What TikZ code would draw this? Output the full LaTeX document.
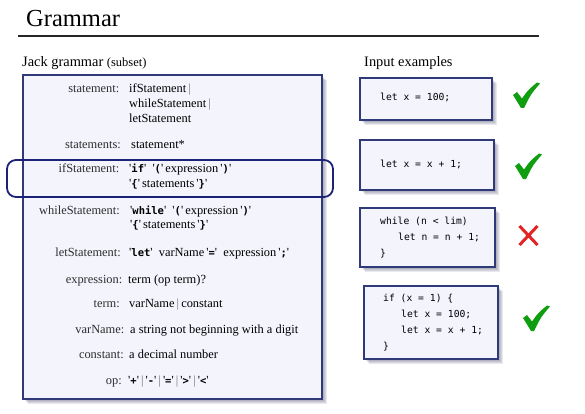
\documentclass[tikz,border=0pt]{standalone}
\usepackage{fontspec}
\setmainfont{Liberation Serif}
\newfontfamily\codefont{DejaVu Sans Mono}
\definecolor{boxbg}{RGB}{244,244,253}
\definecolor{boxline}{RGB}{48,58,120}
\definecolor{hlline}{RGB}{28,34,118}
\definecolor{checkgreen}{RGB}{16,158,16}
\definecolor{crossred}{RGB}{226,36,36}
\definecolor{labgray}{RGB}{45,45,45}
\newcommand\kw[1]{{\codefont\bfseries\fontsize{10.5}{12}\selectfont #1}}
\newcommand\qt[1]{\textquotesingle#1\textquotesingle}
\newcommand\gsep{{\color{black!55}\,|\,}}
\tikzset{
  lab/.style={anchor=base east, inner sep=0pt, text=labgray, font=\fontsize{12.4}{15}\selectfont},
  body/.style={anchor=base west, inner sep=0pt, text=black, font=\fontsize{12.4}{15}\selectfont},
  code/.style={anchor=base west, inner sep=0pt, text=black, font=\codefont\fontsize{9.7}{16}\selectfont},
  panel/.style={draw=boxline, fill=boxbg, line width=1.6pt, inner sep=0pt, anchor=north west},
  heading/.style={anchor=base west, inner sep=0pt, font=\fontsize{14.4}{17}\selectfont},
  hl/.style={draw=hlline, line width=1.8pt, rounded corners=9pt},
}
\newcommand\shadowbox[4]{%
  \foreach \k in {1,...,6}{\fill[black!80!blue, opacity=0.085] (#1+\k,#2+\k) rectangle (#3+\k,#4+\k);}}
\newcommand\checkmk[2]{%
  \fill[checkgreen, shift={(#1,#2)}] (0,13) -- (4,10) -- (9,16.5) .. controls (15,8) .. (24,0.5) -- (27,1.5) .. controls (18,12) .. (11,26) -- (8,26) -- cycle;}
\begin{document}
\begin{tikzpicture}[x=1pt,y=-1pt]
\useasboundingbox (0,0) rectangle (585,414);
% title
\node[anchor=base west, inner sep=0pt, font=\fontsize{24.5}{28}\selectfont] (title) at (26,27) {Grammar};
\coordinate (tl) at (18,36);
\coordinate (tr) at (539,36);
\draw[line width=1.4pt, black!85] (tl) -- (tr);

% left heading
\node[heading] (jack) at (22,67) {Jack grammar {\fontsize{12.5}{15}\selectfont(subset)}};

% main grammar box
\shadowbox{22}{74}{321}{398}
\node[panel, minimum width=299pt, minimum height=324pt] (gbox) at (22,74) {};

\node[lab] (l1) at (119.5,93) {statement:};
\node[body] (b1a) at (129,93) {ifStatement\gsep};
\node[body] (b1b) at (129,108) {whileStatement\gsep};
\node[body] (b1c) at (129,122.5) {letStatement};

\node[lab] (l2) at (121,148) {statements:};
\node[body] (b2) at (131,148) {statement*};

\node[lab] (l3) at (119.5,172.5) {ifStatement:};
\node[body] (b3a) at (129,172.5) {\qt{\kw{if}}\ \ \qt{\kw{(}}\,expression\,\qt{\kw{)}}};
\node[body] (b3b) at (129,187.5) {\qt{\kw{\{}}\,statements\,\qt{\kw{\}}}};

\node[lab] (l4) at (120,214) {whileStatement:};
\node[body] (b4a) at (130,214) {\qt{\kw{while}}\ \ \qt{\kw{(}}\,expression\,\qt{\kw{)}}};
\node[body] (b4b) at (130,228.5) {\qt{\kw{\{}}\,statements\,\qt{\kw{\}}}};

\node[lab] (l5) at (121,256) {letStatement:};
\node[body] (b5) at (129,256) {\qt{\kw{let}}\ \ varName\,\qt{\kw{=}}\ \ expression\,\qt{\kw{;}}};

\node[lab] (l6) at (122.5,283) {expression:};
\node[body] (b6) at (128,283) {term (op term)?};

\node[lab] (l7) at (120,307.5) {term:};
\node[body] (b7) at (129,307.5) {varName\gsep constant};

\node[lab] (l8) at (124.5,333) {varName:};
\node[body] (b8) at (130,333) {a string not beginning with a digit};

\node[lab] (l9) at (124,358) {constant:};
\node[body] (b9) at (129,358) {a decimal number};

\node[lab] (l10) at (122,384) {op:};
\node[body] (b10) at (128,384) {\qt{\kw{+}}\gsep\qt{\kw{-}}\gsep\qt{\kw{=}}\gsep\qt{\kw{>}}\gsep\qt{\kw{<}}};

% highlight
\draw[hl] (7,160) rectangle (333,197);

% right heading
\node[heading] (inp) at (364,67) {Input examples};

% example boxes
\shadowbox{359}{77}{491}{119}
\node[panel, minimum width=132pt, minimum height=42pt] (e1) at (359,77) {};
\node[code] (c1) at (380,100.5) {let x = 100;};

\shadowbox{359}{139}{493}{189}
\node[panel, minimum width=134pt, minimum height=50pt] (e2) at (359,139) {};
\node[code] (c2) at (380,167) {let x = x + 1;};

\shadowbox{359}{207}{494}{266}
\node[panel, minimum width=135pt, minimum height=59pt] (e3) at (359,207) {};
\node[code] (c3a) at (380,224) {while (n < lim)};
\node[code] (c3b) at (398,240) {let n = n + 1;};
\node[code] (c3c) at (380,256) {\}};

\shadowbox{363}{285}{497}{358}
\node[panel, minimum width=134pt, minimum height=73pt] (e4) at (363,285) {};
\node[code] (c4a) at (383,301) {if (x = 1) \{};
\node[code] (c4b) at (401,317) {let x = 100;};
\node[code] (c4c) at (401,333) {let x = x + 1;};
\node[code] (c4d) at (383,349) {\}};

% marks
\checkmk{513}{82}
\checkmk{515}{153}
\draw[crossred, line width=3pt] (519.5,226) -- (537.5,245) (537.5,226) -- (519.5,245);
\checkmk{523}{305}
\end{tikzpicture}
\end{document}
